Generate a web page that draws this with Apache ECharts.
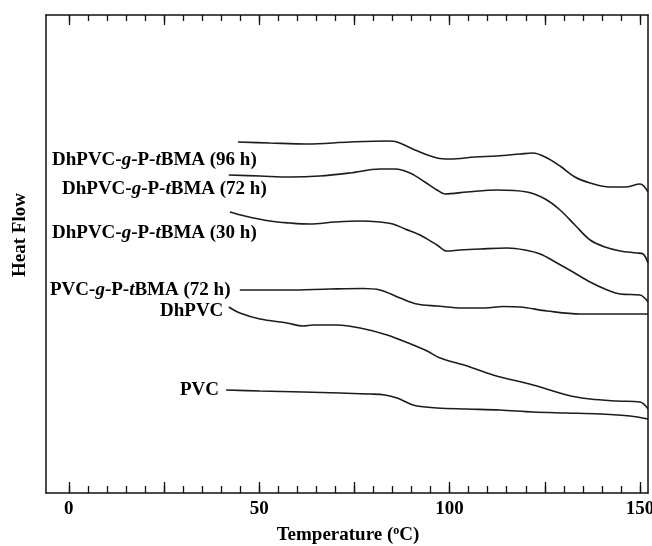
<!DOCTYPE html>
<html>
<head>
<meta charset="utf-8">
<script src="https://cdn.jsdelivr.net/npm/echarts@6/dist/echarts.min.js"></script>
<style>
html,body{margin:0;padding:0;background:#fff;}
#chart{width:652px;height:546px;}
</style>
</head>
<body>
<div id="chart"></div>
<script>
// Temperature (°C) vs heat flow (arbitrary units)
var dhpvcG96 = [[44.4,351],[52.8,350],[62.5,349],[73.8,351],[83.6,352],[86.2,351],[90.9,343],[96.7,335],[100.1,334],[106.7,336],[112.5,337],[118.5,339],[121.9,340],[125.1,336],[129.0,327],[132.9,316],[136.9,310],[142.1,306],[146.1,306],[150.0,309],[152.1,301]];
var dhpvcG72 = [[42.0,318],[50.2,317],[58.1,316],[65.9,317],[73.8,320],[81.7,324],[85.7,324],[89.6,320],[93.5,311],[96.7,303],[98.8,299],[104.6,301],[112.5,303],[120.3,301],[125.1,294],[129.0,283],[132.9,268],[136.9,253],[140.8,246],[144.8,242],[149.2,240],[150.8,239],[152.1,230]];
var dhpvcG30 = [[42.3,281],[46.2,277],[52.8,272],[58.1,270],[63.3,269],[69.9,271],[76.5,272],[81.7,271],[85.1,269],[88.3,264],[92.2,258],[96.7,248],[99.3,242],[102.7,243],[108.0,244],[115.1,245],[119.8,243],[123.8,239],[128.2,230],[132.4,221],[136.9,211],[140.8,204],[144.8,199],[150.0,198],[152.1,191]];
var pvcG72 = [[44.9,203],[57.3,203],[68.6,204],[77.2,204.5],[81.7,203],[87.0,195],[91.4,189],[96.7,187],[103.5,185],[109.3,185],[114.0,186.5],[118.5,186],[125.6,182],[134.3,179],[144.8,179],[152.1,179]];
var dhpvc = [[42.0,186],[44.9,180],[50.2,174],[57.3,170],[61.5,167],[64.1,168],[70.4,168],[76.5,165],[83.6,158],[90.4,148],[94.1,142],[97.5,135],[104.6,127],[111.4,118],[121.9,108],[130.8,98],[136.9,94],[144.0,92],[150.0,91],[152.1,84]];
var pvc = [[41.3,103],[50.2,102],[61.5,101],[71.2,100],[79.1,99],[83.0,98],[86.2,95],[89.1,90],[91.4,87],[96.7,85],[104.6,84],[113.2,83],[121.9,81],[130.8,80],[139.5,79],[147.4,77],[152.1,74]];

var xTickLabels = [0, 50, 100, 150];
var xMinorTicks = [0,5,10,15,20,25,30,35,40,45,50,55,60,65,70,75,80,85,90,95,100,105,110,115,120,125,130,135,140,145,150];
var xMajorTicks = [0,25,50,75,100,125,150];

var seriesNames = ['DhPVC-g-P-tBMA (96 h)','DhPVC-g-P-tBMA (72 h)','DhPVC-g-P-tBMA (30 h)','PVC-g-P-tBMA (72 h)','DhPVC','PVC'];
var seriesData = [dhpvcG96, dhpvcG72, dhpvcG30, pvcG72, dhpvc, pvc];

var FONT = '"Liberation Serif", "Times New Roman", serif';
var XMIN = -6, XMAX = 152.1;

function xa(pos, len, ticks, labels, line) {
  return {
    type: 'value', position: pos, min: XMIN, max: XMAX,
    axisLine: {show: line, onZero: false, lineStyle: {color: '#111', width: 1.5}},
    axisTick: {show: true, inside: true, length: len, customValues: ticks, lineStyle: {color: '#111', width: 1.3}},
    axisLabel: labels ? {show: true, customValues: labels, color: '#000', fontFamily: FONT, fontWeight: 'bold', fontSize: 19, margin: 7, hideOverlap: false} : {show: false},
    splitLine: {show: false}
  };
}

var chart = echarts.init(document.getElementById('chart'), null, {renderer: 'canvas'});

var rich = {
  n: {fontFamily: FONT, fontWeight: 'bold', fontSize: 19, fill: '#000'},
  i: {fontFamily: FONT, fontWeight: 'bold', fontStyle: 'italic', fontSize: 19, fill: '#000'}
};
function gLabel(prefix, suffix) {
  return '{n|' + prefix + '-}{i|g}{n|-P-}{i|t}{n|BMA (' + suffix + ')}';
}

var option = {
  animation: false,
  backgroundColor: '#fff',
  grid: {left: 46, right: 4, top: 15, bottom: 53, containLabel: false, outerBoundsMode: 'none'},
  xAxis: [
    xa('bottom', 7, xMinorTicks, xTickLabels, true),
    xa('bottom', 11, xMajorTicks, null, false),
    xa('top', 6, xMinorTicks, null, true),
    xa('top', 10, xMajorTicks, null, false)
  ],
  yAxis: [
    {type: 'value', position: 'left', min: 0, max: 478, axisLine: {show: true, onZero: false, lineStyle: {color: '#111', width: 1.5}}, axisTick: {show: false}, axisLabel: {show: false}, splitLine: {show: false}},
    {type: 'value', position: 'right', min: 0, max: 478, axisLine: {show: true, onZero: false, lineStyle: {color: '#111', width: 1.5}}, axisTick: {show: false}, axisLabel: {show: false}, splitLine: {show: false}}
  ],
  series: seriesData.map(function (d, k) {
    return {
      name: seriesNames[k], type: 'line', xAxisIndex: 0, yAxisIndex: 0,
      data: d, showSymbol: false, smooth: 0.35,
      lineStyle: {color: '#1c1c1c', width: 1.6}
    };
  }),
  graphic: [
    {type: 'text', left: 52, top: 151, style: {rich: rich, text: gLabel('DhPVC', '96 h'), fill: '#000'}},
    {type: 'text', left: 62, top: 180, style: {rich: rich, text: gLabel('DhPVC', '72 h'), fill: '#000'}},
    {type: 'text', left: 52, top: 224, style: {rich: rich, text: gLabel('DhPVC', '30 h'), fill: '#000'}},
    {type: 'text', left: 50, top: 281, style: {rich: rich, text: gLabel('PVC', '72 h'), fill: '#000'}},
    {type: 'text', left: 160, top: 302, style: {rich: rich, text: '{n|DhPVC}', fill: '#000'}},
    {type: 'text', left: 180, top: 381, style: {rich: rich, text: '{n|PVC}', fill: '#000'}},
    {type: 'text', x: 20, y: 235, rotation: Math.PI / 2, style: {text: 'Heat Flow', font: 'bold 19px ' + FONT, fill: '#000', align: 'center', verticalAlign: 'middle'}},
    {type: 'text', x: 348, y: 535, style: {text: '{n|Temperature (}{s|o}{n|C)}', rich: {n: {fontFamily: FONT, fontWeight: 'bold', fontSize: 19}, s: {fontFamily: FONT, fontWeight: 'bold', fontSize: 12, verticalAlign: 'top', padding: [0, 0, 8, 0]}}, fill: '#000', align: 'center', verticalAlign: 'middle'}}
  ]
};
chart.setOption(option);
</script>
</body>
</html>
